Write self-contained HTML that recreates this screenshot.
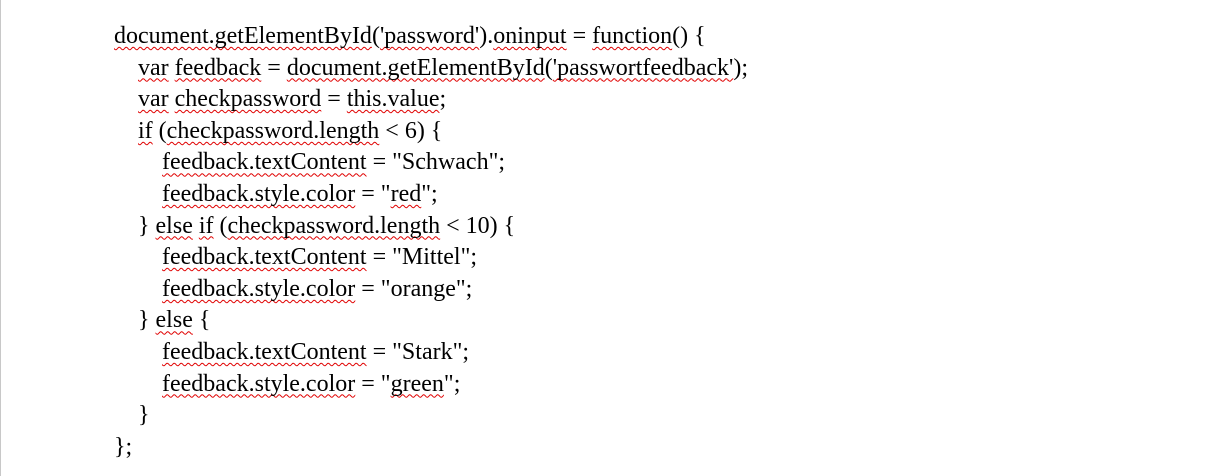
<!DOCTYPE html>
<html><head><meta charset="utf-8"><style>
html,body{margin:0;padding:0;background:#fff;}
body{width:1216px;height:476px;position:relative;overflow:hidden;border-left:1px solid #c8c8c8;box-sizing:border-box;}
.c{position:absolute;left:113px;top:21px;font-family:"Liberation Serif",serif;font-size:24px;line-height:31.6px;color:#000;white-space:pre;}
.l1{padding-left:24px}.l2{padding-left:48px}
.s{text-decoration:underline wavy #e00000;text-decoration-thickness:1px;text-underline-offset:3px;text-decoration-skip-ink:none;}
</style></head><body>
<div class="c"><div><span class="s">document.getElementById</span>(<span class="s">'password'</span>).<span class="s">oninput</span> = <span class="s">function</span>() {</div><div class="l1"><span class="s">var</span> <span class="s">feedback</span> = <span class="s">document.getElementById</span>(<span class="s">'passwortfeedback'</span>);</div><div class="l1"><span class="s">var</span> <span class="s">checkpassword</span> = <span class="s">this.value</span>;</div><div class="l1"><span class="s">if</span> (<span class="s">checkpassword.length</span> &lt; 6) {</div><div class="l2"><span class="s">feedback.textContent</span> = "Schwach";</div><div class="l2"><span class="s">feedback.style.color</span> = "<span class="s">red</span>";</div><div class="l1">} <span class="s">else</span> <span class="s">if</span> (<span class="s">checkpassword.length</span> &lt; 10) {</div><div class="l2"><span class="s">feedback.textContent</span> = "Mittel";</div><div class="l2"><span class="s">feedback.style.color</span> = "orange";</div><div class="l1">} <span class="s">else</span> {</div><div class="l2"><span class="s">feedback.textContent</span> = "Stark";</div><div class="l2"><span class="s">feedback.style.color</span> = "<span class="s">green</span>";</div><div class="l1">}</div><div>};</div></div>
</body></html>
